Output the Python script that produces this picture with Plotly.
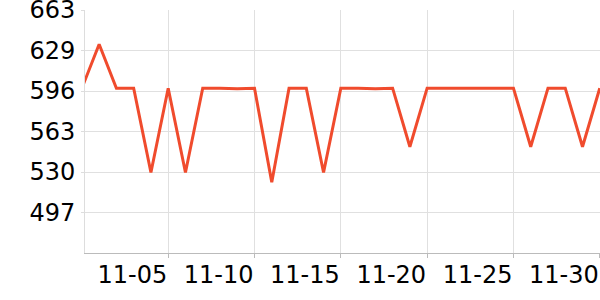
import plotly.graph_objects as go

dates = ["2023-10-31", "2023-11-01", "2023-11-02", "2023-11-03", "2023-11-04", "2023-11-05",
         "2023-11-06", "2023-11-07", "2023-11-08", "2023-11-09", "2023-11-10", "2023-11-11",
         "2023-11-12", "2023-11-13", "2023-11-14", "2023-11-15", "2023-11-16", "2023-11-17",
         "2023-11-18", "2023-11-19", "2023-11-20", "2023-11-21", "2023-11-22", "2023-11-23",
         "2023-11-24", "2023-11-25", "2023-11-26", "2023-11-27", "2023-11-28", "2023-11-29",
         "2023-11-30"]
values = [599, 635, 599, 599, 530, 599,
          530, 599, 599, 598.5, 599, 522,
          599, 599, 530, 599, 599, 598.5,
          599, 551, 599, 599, 599, 599,
          599, 599, 551, 599, 599, 551,
          599]

x_tick_vals = ["2023-11-05", "2023-11-10", "2023-11-15", "2023-11-20", "2023-11-25", "2023-11-30"]
x_tick_text = ["11-05", "11-10", "11-15", "11-20", "11-25", "11-30"]

y_min, y_max = 464, 663
y_step = (y_max - y_min) / 6
y_tick_vals = [y_min + y_step * k for k in range(1, 7)]
y_tick_text = ["497", "530", "563", "596", "629", "663"]

fig = go.Figure(go.Scatter(
    x=dates, y=values, mode="lines",
    line=dict(color="#f04b2d", width=3),
    hoverinfo="skip",
))

font = dict(family="DejaVu Sans", size=24, color="#000000")

fig.update_layout(
    width=600, height=300,
    margin=dict(l=85, r=0, t=10, b=47),
    paper_bgcolor="white", plot_bgcolor="white",
    showlegend=False,
    font=font,
)
fig.update_xaxes(
    type="date",
    automargin=False,
    range=["2023-10-31 04:20", "2023-11-30 00:20"],
    tickvals=x_tick_vals, ticktext=x_tick_text,
    ticklabelposition="outside left",
    ticklabeloverflow="allow",
    showgrid=True, gridcolor="#e0e0e0", gridwidth=1,
    showline=True, linecolor="#bbbbbb", linewidth=1,
    ticks="outside", ticklen=4, tickcolor="#bbbbbb",
    tickfont=font,
    zeroline=False,
)
fig.update_yaxes(
    automargin=False,
    range=[y_min, y_max + 0.05],
    tickvals=y_tick_vals, ticktext=y_tick_text,
    ticklabeloverflow="allow",
    ticklabelstandoff=1,
    showgrid=True, gridcolor="#e0e0e0", gridwidth=1,
    showline=True, linecolor="#dddddd", linewidth=1,
    ticks="outside", ticklen=3, tickcolor="#dddddd",
    tickfont=font,
    zeroline=False,
)

fig.write_html("out.html")
